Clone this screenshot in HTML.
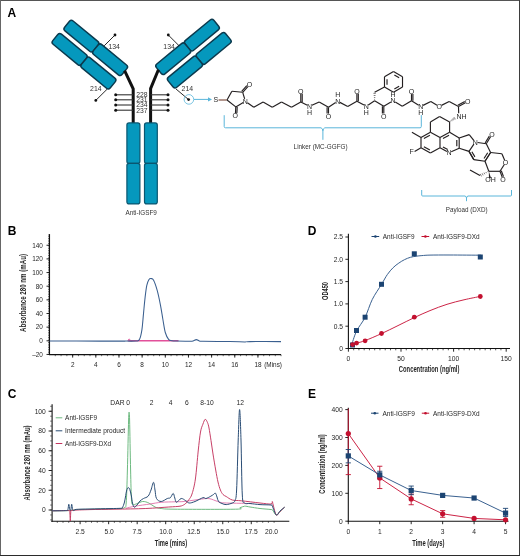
<!DOCTYPE html>
<html><head><meta charset="utf-8"><style>
html,body{margin:0;padding:0;background:#fff;}
svg{display:block;font-family:'Liberation Sans',sans-serif;}
text{font-family:'Liberation Sans',sans-serif;filter:grayscale(1);}
</style></head><body>
<svg width="520" height="556" viewBox="0 0 520 556">
<rect x="0" y="0" width="520" height="556" fill="#fff"/>
<text x="7.5" y="17.4" font-size="12" text-anchor="start" fill="#000" font-weight="bold" >A</text>
<text x="7.7" y="235" font-size="12" text-anchor="start" fill="#000" font-weight="bold" >B</text>
<text x="7.7" y="398.2" font-size="12" text-anchor="start" fill="#000" font-weight="bold" >C</text>
<text x="307.7" y="234.8" font-size="12" text-anchor="start" fill="#000" font-weight="bold" >D</text>
<text x="308" y="398.2" font-size="12" text-anchor="start" fill="#000" font-weight="bold" >E</text>
<g transform="translate(96 47.6) rotate(39.5)"><rect x="-37.2" y="-6" width="37.2" height="12.8" rx="2.6" fill="#0598bd" stroke="#0b3a4e" stroke-width="1.45"/><rect x="0" y="-6" width="37.2" height="12.8" rx="2.6" fill="#0598bd" stroke="#0b3a4e" stroke-width="1.45"/></g><g transform="translate(84.34 60.8) rotate(39.5)"><rect x="-37.2" y="-6" width="37.2" height="13.1" rx="2.6" fill="#0598bd" stroke="#0b3a4e" stroke-width="1.45"/><rect x="0" y="-6" width="37.2" height="13.1" rx="2.6" fill="#0598bd" stroke="#0b3a4e" stroke-width="1.45"/></g>
<g transform="translate(283.3 -1) scale(-1 1)"><g transform="translate(96 47.6) rotate(39.5)"><rect x="-37.2" y="-6" width="37.2" height="12.8" rx="2.6" fill="#0598bd" stroke="#0b3a4e" stroke-width="1.45"/><rect x="0" y="-6" width="37.2" height="12.8" rx="2.6" fill="#0598bd" stroke="#0b3a4e" stroke-width="1.45"/></g><g transform="translate(84.34 60.8) rotate(39.5)"><rect x="-37.2" y="-6" width="37.2" height="13.1" rx="2.6" fill="#0598bd" stroke="#0b3a4e" stroke-width="1.45"/><rect x="0" y="-6" width="37.2" height="13.1" rx="2.6" fill="#0598bd" stroke="#0b3a4e" stroke-width="1.45"/></g></g>
<path d="M124.6,70.6 L133.2,88.8 L133.2,123" fill="none" stroke="#111" stroke-width="3"/>
<path d="M158.4,69.8 L150.6,88.6 L150.6,123" fill="none" stroke="#111" stroke-width="3"/>
<line x1="115.7" y1="94.8" x2="133" y2="94.8" stroke="#333" stroke-width="1.1" />
<line x1="150.6" y1="94.8" x2="168" y2="94.8" stroke="#333" stroke-width="1.1" />
<circle cx="115.7" cy="94.8" r="1.5" fill="#111"/>
<circle cx="168" cy="94.8" r="1.5" fill="#111"/>
<line x1="115.7" y1="99.8" x2="133" y2="99.8" stroke="#333" stroke-width="1.1" />
<line x1="150.6" y1="99.8" x2="168" y2="99.8" stroke="#333" stroke-width="1.1" />
<circle cx="115.7" cy="99.8" r="1.5" fill="#111"/>
<circle cx="168" cy="99.8" r="1.5" fill="#111"/>
<line x1="115.7" y1="105" x2="133" y2="105" stroke="#333" stroke-width="1.1" />
<line x1="150.6" y1="105" x2="168" y2="105" stroke="#333" stroke-width="1.1" />
<circle cx="115.7" cy="105" r="1.5" fill="#111"/>
<circle cx="168" cy="105" r="1.5" fill="#111"/>
<line x1="115.7" y1="110.2" x2="133" y2="110.2" stroke="#333" stroke-width="1.1" />
<line x1="150.6" y1="110.2" x2="168" y2="110.2" stroke="#333" stroke-width="1.1" />
<circle cx="115.7" cy="110.2" r="1.5" fill="#111"/>
<circle cx="168" cy="110.2" r="1.5" fill="#111"/>
<text x="141.8" y="97" font-size="6.8" text-anchor="middle" fill="#333" >228</text>
<text x="141.8" y="102.1" font-size="6.8" text-anchor="middle" fill="#333" >231</text>
<text x="141.8" y="107.3" font-size="6.8" text-anchor="middle" fill="#333" >234</text>
<text x="141.8" y="112.5" font-size="6.8" text-anchor="middle" fill="#333" >237</text>
<rect x="126.9" y="122.9" width="13" height="40.5" rx="2.2" fill="#0598bd" stroke="#0a5670" stroke-width="1.2"/>
<rect x="126.9" y="163.4" width="13" height="40.5" rx="2.2" fill="#0598bd" stroke="#0a5670" stroke-width="1.2"/>
<rect x="144.5" y="122.9" width="12.8" height="40.5" rx="2.2" fill="#0598bd" stroke="#0a5670" stroke-width="1.2"/>
<rect x="144.5" y="163.4" width="12.8" height="40.5" rx="2.2" fill="#0598bd" stroke="#0a5670" stroke-width="1.2"/>
<text x="141.2" y="214.6" font-size="6.5" text-anchor="middle" fill="#333" textLength="31.4" lengthAdjust="spacingAndGlyphs" >Anti-IGSF9</text>
<line x1="104.2" y1="45.8" x2="115" y2="35" stroke="#111" stroke-width="0.9" />
<circle cx="115" cy="35" r="1.4" fill="#111"/>
<line x1="179.1" y1="45.8" x2="168.3" y2="35" stroke="#111" stroke-width="0.9" />
<circle cx="168.3" cy="35" r="1.4" fill="#111"/>
<text x="114.2" y="48.9" font-size="6.9" text-anchor="middle" fill="#333" >134</text>
<text x="169.1" y="48.9" font-size="6.9" text-anchor="middle" fill="#333" >134</text>
<line x1="107.3" y1="89" x2="95.8" y2="100.4" stroke="#111" stroke-width="0.9" />
<circle cx="95.8" cy="100.4" r="1.4" fill="#111"/>
<text x="95.8" y="91.2" font-size="6.9" text-anchor="middle" fill="#333" >214</text>
<line x1="176" y1="89" x2="188.6" y2="99.6" stroke="#111" stroke-width="0.9" />
<circle cx="188.6" cy="99.6" r="1.4" fill="#111"/>
<text x="187.3" y="91.2" font-size="6.9" text-anchor="middle" fill="#333" >214</text>
<circle cx="188.9" cy="99.4" r="4.8" fill="none" stroke="#5ab6da" stroke-width="0.8"/>
<line x1="194" y1="99.4" x2="209" y2="99.4" stroke="#5ab6da" stroke-width="1" />
<path d="M208,97.2 L212,99.4 L208,101.6 Z" fill="#5ab6da"/>
<text x="215.8" y="102.32" font-size="7" text-anchor="middle" fill="#231f20" >S</text>
<text x="245.4" y="103.72" font-size="7" text-anchor="middle" fill="#231f20" >N</text>
<text x="249.6" y="87.12" font-size="7" text-anchor="middle" fill="#231f20" >O</text>
<text x="235.3" y="118.32" font-size="7" text-anchor="middle" fill="#231f20" >O</text>
<line x1="218.5" y1="100" x2="226.8" y2="100" stroke="#7a4a3a" stroke-width="1.15"/>
<line x1="227" y1="100" x2="231.9" y2="91.2" stroke="#231f20" stroke-width="1.15" />
<line x1="231.9" y1="91.2" x2="242.7" y2="92.3" stroke="#231f20" stroke-width="1.15" />
<line x1="242.7" y1="92.3" x2="244.67" y2="98.81" stroke="#231f20" stroke-width="1.15" />
<line x1="243.25" y1="102.48" x2="235.8" y2="106.9" stroke="#231f20" stroke-width="1.15" />
<line x1="235.8" y1="106.9" x2="227" y2="100" stroke="#231f20" stroke-width="1.15" />
<line x1="242.7" y1="92.3" x2="247.86" y2="86.54" stroke="#231f20" stroke-width="1.15" />
<line x1="241.66" y1="91.37" x2="246.82" y2="85.6" stroke="#231f20" stroke-width="1.15" />
<line x1="235.8" y1="106.9" x2="235.45" y2="113.2" stroke="#231f20" stroke-width="1.15" />
<line x1="237.2" y1="106.98" x2="236.84" y2="113.28" stroke="#231f20" stroke-width="1.15" />
<line x1="247.42" y1="102.67" x2="253.8" y2="107.3" stroke="#231f20" stroke-width="1.15" />
<line x1="253.8" y1="107.3" x2="263.1" y2="101.9" stroke="#231f20" stroke-width="1.15" />
<line x1="263.1" y1="101.9" x2="272.3" y2="107.3" stroke="#231f20" stroke-width="1.15" />
<line x1="272.3" y1="107.3" x2="281.5" y2="101.9" stroke="#231f20" stroke-width="1.15" />
<line x1="281.5" y1="101.9" x2="291.5" y2="107.3" stroke="#231f20" stroke-width="1.15" />
<line x1="291.5" y1="107.3" x2="300.8" y2="101.9" stroke="#231f20" stroke-width="1.15" />
<text x="300.8" y="93.72" font-size="7" text-anchor="middle" fill="#231f20" >O</text>
<line x1="300.8" y1="101.9" x2="300.8" y2="93.8" stroke="#231f20" stroke-width="1.15" />
<line x1="302.2" y1="101.9" x2="302.2" y2="93.8" stroke="#231f20" stroke-width="1.15" />
<text x="309.6" y="108.82" font-size="7" text-anchor="middle" fill="#231f20" >N</text>
<text x="309.6" y="115.42" font-size="7" text-anchor="middle" fill="#231f20" >H</text>
<line x1="300.8" y1="101.9" x2="307.36" y2="105.18" stroke="#231f20" stroke-width="1.15" />
<line x1="311.87" y1="105.26" x2="319.2" y2="101.9" stroke="#231f20" stroke-width="1.15" />
<line x1="319.2" y1="101.9" x2="328.5" y2="107.3" stroke="#231f20" stroke-width="1.15" />
<line x1="328.5" y1="107.3" x2="328.5" y2="113.6" stroke="#231f20" stroke-width="1.15" />
<line x1="327.1" y1="107.3" x2="327.1" y2="113.6" stroke="#231f20" stroke-width="1.15" />
<text x="328.5" y="118.72" font-size="7" text-anchor="middle" fill="#231f20" >O</text>
<line x1="328.5" y1="107.3" x2="335.62" y2="102.58" stroke="#231f20" stroke-width="1.15" />
<text x="337.7" y="103.72" font-size="7" text-anchor="middle" fill="#231f20" >N</text>
<text x="337.7" y="97.22" font-size="7" text-anchor="middle" fill="#231f20" >H</text>
<line x1="339.91" y1="102.37" x2="347.7" y2="106.5" stroke="#231f20" stroke-width="1.15" />
<line x1="347.7" y1="106.5" x2="356.9" y2="101.2" stroke="#231f20" stroke-width="1.15" />
<line x1="356.9" y1="101.2" x2="356.9" y2="93.8" stroke="#231f20" stroke-width="1.15" />
<line x1="358.3" y1="101.2" x2="358.3" y2="93.8" stroke="#231f20" stroke-width="1.15" />
<text x="356.9" y="93.72" font-size="7" text-anchor="middle" fill="#231f20" >O</text>
<line x1="356.9" y1="101.2" x2="364.01" y2="105.1" stroke="#231f20" stroke-width="1.15" />
<text x="366.2" y="108.82" font-size="7" text-anchor="middle" fill="#231f20" >N</text>
<text x="366.2" y="115.22" font-size="7" text-anchor="middle" fill="#231f20" >H</text>
<line x1="368.29" y1="104.93" x2="374.6" y2="100.8" stroke="#231f20" stroke-width="1.15" />
<line x1="374.18" y1="99.74" x2="375.03" y2="99.74" stroke="#231f20" stroke-width="0.6" />
<line x1="373.93" y1="97.61" x2="375.28" y2="97.61" stroke="#231f20" stroke-width="0.6" />
<line x1="373.68" y1="95.49" x2="375.53" y2="95.49" stroke="#231f20" stroke-width="0.6" />
<line x1="373.43" y1="93.36" x2="375.78" y2="93.36" stroke="#231f20" stroke-width="0.6" />
<line x1="374.6" y1="92.3" x2="384.49" y2="87.1" stroke="#231f20" stroke-width="1.15" />
<line x1="393.5" y1="71.5" x2="402.51" y2="76.7" stroke="#231f20" stroke-width="1.15" />
<line x1="402.51" y1="76.7" x2="402.51" y2="87.1" stroke="#231f20" stroke-width="1.15" />
<line x1="402.51" y1="87.1" x2="393.5" y2="92.3" stroke="#231f20" stroke-width="1.15" />
<line x1="393.5" y1="92.3" x2="384.49" y2="87.1" stroke="#231f20" stroke-width="1.15" />
<line x1="384.49" y1="87.1" x2="384.49" y2="76.7" stroke="#231f20" stroke-width="1.15" />
<line x1="384.49" y1="76.7" x2="393.5" y2="71.5" stroke="#231f20" stroke-width="1.15" />
<line x1="394.37" y1="74.91" x2="399.12" y2="77.66" stroke="#231f20" stroke-width="1.15" />
<line x1="399.12" y1="86.14" x2="394.37" y2="88.89" stroke="#231f20" stroke-width="1.15" />
<line x1="387.02" y1="84.64" x2="387.02" y2="79.16" stroke="#231f20" stroke-width="1.15" />
<line x1="374.6" y1="100.8" x2="383.8" y2="106.2" stroke="#231f20" stroke-width="1.15" />
<line x1="383.8" y1="106.2" x2="383.8" y2="113.6" stroke="#231f20" stroke-width="1.15" />
<line x1="382.4" y1="106.2" x2="382.4" y2="113.6" stroke="#231f20" stroke-width="1.15" />
<text x="383.8" y="118.72" font-size="7" text-anchor="middle" fill="#231f20" >O</text>
<line x1="383.8" y1="106.2" x2="390.94" y2="102.06" stroke="#231f20" stroke-width="1.15" />
<text x="393.1" y="103.32" font-size="7" text-anchor="middle" fill="#231f20" >N</text>
<text x="393.1" y="97.12" font-size="7" text-anchor="middle" fill="#231f20" >H</text>
<line x1="395.26" y1="102.07" x2="402.3" y2="106.2" stroke="#231f20" stroke-width="1.15" />
<line x1="402.3" y1="106.2" x2="411.5" y2="100.8" stroke="#231f20" stroke-width="1.15" />
<line x1="411.5" y1="100.8" x2="411.5" y2="94.1" stroke="#231f20" stroke-width="1.15" />
<line x1="412.9" y1="100.8" x2="412.9" y2="94.1" stroke="#231f20" stroke-width="1.15" />
<text x="411.5" y="94.02" font-size="7" text-anchor="middle" fill="#231f20" >O</text>
<line x1="411.5" y1="100.8" x2="418.67" y2="105.19" stroke="#231f20" stroke-width="1.15" />
<text x="420.8" y="109.02" font-size="7" text-anchor="middle" fill="#231f20" >N</text>
<text x="420.8" y="115.02" font-size="7" text-anchor="middle" fill="#231f20" >H</text>
<line x1="423.04" y1="105.38" x2="430.8" y2="101.5" stroke="#231f20" stroke-width="1.15" />
<line x1="430.8" y1="101.5" x2="437.05" y2="105.22" stroke="#231f20" stroke-width="1.15" />
<text x="439.2" y="109.02" font-size="7" text-anchor="middle" fill="#231f20" >O</text>
<line x1="441.44" y1="105.38" x2="449.2" y2="101.5" stroke="#231f20" stroke-width="1.15" />
<line x1="449.2" y1="101.5" x2="458.5" y2="106.5" stroke="#231f20" stroke-width="1.15" />
<line x1="458.5" y1="106.5" x2="465.42" y2="102.74" stroke="#231f20" stroke-width="1.15" />
<line x1="457.83" y1="105.27" x2="464.75" y2="101.51" stroke="#231f20" stroke-width="1.15" />
<text x="467.7" y="104.02" font-size="7" text-anchor="middle" fill="#231f20" >O</text>
<line x1="458.5" y1="106.5" x2="458.71" y2="113.2" stroke="#231f20" stroke-width="1.15" />
<text x="456.4" y="118.7" font-size="7" text-anchor="start" fill="#231f20" >NH</text>
<line x1="449.91" y1="121.15" x2="450.41" y2="121.83" stroke="#231f20" stroke-width="0.6" />
<line x1="450.89" y1="120.14" x2="451.67" y2="121.2" stroke="#231f20" stroke-width="0.6" />
<line x1="451.87" y1="119.12" x2="452.93" y2="120.58" stroke="#231f20" stroke-width="0.6" />
<line x1="452.85" y1="118.11" x2="454.19" y2="119.95" stroke="#231f20" stroke-width="0.6" />
<line x1="453.82" y1="117.1" x2="455.46" y2="119.32" stroke="#231f20" stroke-width="0.6" />
<line x1="449.6" y1="121.9" x2="439.6" y2="116.5" stroke="#231f20" stroke-width="1.15" />
<line x1="439.6" y1="116.5" x2="430.4" y2="121.9" stroke="#231f20" stroke-width="1.15" />
<line x1="430.4" y1="121.9" x2="430.4" y2="132.3" stroke="#231f20" stroke-width="1.15" />
<line x1="449.6" y1="121.9" x2="449.6" y2="132.3" stroke="#231f20" stroke-width="1.15" />
<line x1="430.4" y1="132.3" x2="421" y2="137.5" stroke="#231f20" stroke-width="1.15" />
<line x1="421" y1="137.5" x2="421" y2="147.8" stroke="#231f20" stroke-width="1.15" />
<line x1="421" y1="147.8" x2="430.4" y2="153" stroke="#231f20" stroke-width="1.15" />
<line x1="430.4" y1="153" x2="440" y2="147.8" stroke="#231f20" stroke-width="1.15" />
<line x1="440" y1="147.8" x2="440" y2="137.5" stroke="#231f20" stroke-width="1.15" />
<line x1="440" y1="137.5" x2="430.4" y2="132.3" stroke="#231f20" stroke-width="1.15" />
<line x1="429.9" y1="135.17" x2="423.9" y2="138.48" stroke="#231f20" stroke-width="1.15" />
<line x1="423.9" y1="146.79" x2="429.9" y2="150.11" stroke="#231f20" stroke-width="1.15" />
<line x1="449.6" y1="132.3" x2="440" y2="137.5" stroke="#231f20" stroke-width="1.15" />
<line x1="449.6" y1="132.3" x2="459.2" y2="138" stroke="#231f20" stroke-width="1.15" />
<line x1="459.2" y1="138" x2="459.2" y2="148.2" stroke="#231f20" stroke-width="1.15" />
<line x1="459.2" y1="148.2" x2="451.2" y2="151.73" stroke="#231f20" stroke-width="1.15" />
<line x1="446.89" y1="151.55" x2="440" y2="147.8" stroke="#231f20" stroke-width="1.15" />
<text x="449" y="155.22" font-size="7" text-anchor="middle" fill="#231f20" >N</text>
<line x1="449.07" y1="135.29" x2="442.93" y2="138.61" stroke="#231f20" stroke-width="1.15" />
<line x1="456.8" y1="139.88" x2="456.8" y2="146.32" stroke="#231f20" stroke-width="1.15" />
<line x1="442.93" y1="146.91" x2="447.74" y2="149.53" stroke="#231f20" stroke-width="1.15" />
<line x1="421" y1="137.5" x2="411.9" y2="132.3" stroke="#231f20" stroke-width="1.15" />
<line x1="421" y1="147.8" x2="414.6" y2="151.6" stroke="#231f20" stroke-width="1.15" />
<text x="411.6" y="154.42" font-size="7" text-anchor="middle" fill="#231f20" >F</text>
<line x1="459.2" y1="138" x2="469.2" y2="134.6" stroke="#231f20" stroke-width="1.15" />
<line x1="469.2" y1="134.6" x2="473.77" y2="140.39" stroke="#231f20" stroke-width="1.15" />
<line x1="473.91" y1="144.11" x2="469" y2="151.4" stroke="#231f20" stroke-width="1.15" />
<line x1="469" y1="151.4" x2="459.2" y2="148.2" stroke="#231f20" stroke-width="1.15" />
<text x="475.2" y="144.72" font-size="7" text-anchor="middle" fill="#231f20" >N</text>
<line x1="477.58" y1="142.54" x2="486.3" y2="143.8" stroke="#231f20" stroke-width="1.15" />
<line x1="486.3" y1="143.8" x2="490.6" y2="152.5" stroke="#231f20" stroke-width="1.15" />
<line x1="490.6" y1="152.5" x2="485" y2="161.3" stroke="#231f20" stroke-width="1.15" />
<line x1="485" y1="161.3" x2="473.8" y2="159.6" stroke="#231f20" stroke-width="1.15" />
<line x1="473.8" y1="159.6" x2="469" y2="151.4" stroke="#231f20" stroke-width="1.15" />
<line x1="469" y1="151.4" x2="473.8" y2="159.6" stroke="#231f20" stroke-width="1.15" />
<line x1="471.89" y1="151.79" x2="474.88" y2="156.88" stroke="#231f20" stroke-width="1.15" />
<line x1="490.6" y1="152.5" x2="485" y2="161.3" stroke="#231f20" stroke-width="1.15" />
<line x1="487.69" y1="152.78" x2="484.03" y2="158.55" stroke="#231f20" stroke-width="1.15" />
<line x1="486.3" y1="143.8" x2="490.55" y2="136.82" stroke="#231f20" stroke-width="1.15" />
<line x1="485.1" y1="143.07" x2="489.35" y2="136.09" stroke="#231f20" stroke-width="1.15" />
<text x="491.9" y="137.12" font-size="7" text-anchor="middle" fill="#231f20" >O</text>
<line x1="490.6" y1="152.5" x2="501.9" y2="153.8" stroke="#231f20" stroke-width="1.15" />
<line x1="501.9" y1="153.8" x2="504.66" y2="160.29" stroke="#231f20" stroke-width="1.15" />
<text x="505.6" y="165.02" font-size="7" text-anchor="middle" fill="#231f20" >O</text>
<line x1="504.31" y1="164.52" x2="500" y2="171.3" stroke="#231f20" stroke-width="1.15" />
<line x1="500" y1="171.3" x2="488.8" y2="171.3" stroke="#231f20" stroke-width="1.15" />
<line x1="488.8" y1="171.3" x2="485" y2="161.3" stroke="#231f20" stroke-width="1.15" />
<line x1="500" y1="171.3" x2="502.19" y2="177.16" stroke="#231f20" stroke-width="1.15" />
<line x1="501.31" y1="170.81" x2="503.5" y2="176.67" stroke="#231f20" stroke-width="1.15" />
<text x="503.1" y="182.12" font-size="7" text-anchor="middle" fill="#231f20" >O</text>
<line x1="488.1" y1="172.11" x2="487.74" y2="171.35" stroke="#231f20" stroke-width="0.6" />
<line x1="486.45" y1="173.18" x2="485.87" y2="172" stroke="#231f20" stroke-width="0.6" />
<line x1="484.8" y1="174.26" x2="484" y2="172.64" stroke="#231f20" stroke-width="0.6" />
<line x1="483.14" y1="175.33" x2="482.14" y2="173.29" stroke="#231f20" stroke-width="0.6" />
<line x1="481.49" y1="176.41" x2="480.27" y2="173.93" stroke="#231f20" stroke-width="0.6" />
<line x1="480" y1="175.6" x2="470" y2="170" stroke="#231f20" stroke-width="1.15" />
<path d="M488.8,171.3 L489.01,178.37 L490.99,178.03 Z" fill="#231f20"/>
<text x="485.3" y="182.4" font-size="7" text-anchor="start" fill="#231f20" >OH</text>
<path d="M224.2,115.2 L224.2,126.5 Q224.2,127.8 225.5,127.8 L321,127.8 Q322.9,128.5 322.9,131 L322.9,139.8 M322.9,131 Q322.9,128.5 324.8,127.8 L420,127.8 Q421.3,127.8 421.3,126.5 L421.3,115.1" fill="none" stroke="#5ab6da" stroke-width="1"/>
<text x="320.6" y="149.2" font-size="7" text-anchor="middle" fill="#333" textLength="54" lengthAdjust="spacingAndGlyphs" >Linker (MC-GGFG)</text>
<path d="M421.7,190 L421.7,195 Q421.7,196 422.7,196 L465,196 Q466.5,196.5 466.5,198 L466.5,201.2 M466.5,198 Q466.5,196.5 468,196 L510.5,196 Q511.5,196 511.5,195 L511.5,190" fill="none" stroke="#5ab6da" stroke-width="1"/>
<text x="466.7" y="212.3" font-size="7" text-anchor="middle" fill="#333" textLength="42" lengthAdjust="spacingAndGlyphs" >Payload (DXD)</text>
<line x1="49.5" y1="234.1" x2="49.5" y2="355" stroke="#111" stroke-width="1.1" />
<line x1="49" y1="354.6" x2="281" y2="354.6" stroke="#111" stroke-width="1.1" />
<line x1="46.5" y1="354.45" x2="49.5" y2="354.45" stroke="#111" stroke-width="0.9" />
<text x="42.9" y="356.75" font-size="6.4" text-anchor="end" fill="#231f20" >&#8211;20</text>
<line x1="46.5" y1="340.8" x2="49.5" y2="340.8" stroke="#111" stroke-width="0.9" />
<text x="42.9" y="343.1" font-size="6.4" text-anchor="end" fill="#231f20" >0</text>
<line x1="46.5" y1="327.15" x2="49.5" y2="327.15" stroke="#111" stroke-width="0.9" />
<text x="42.9" y="329.45" font-size="6.4" text-anchor="end" fill="#231f20" >20</text>
<line x1="46.5" y1="313.5" x2="49.5" y2="313.5" stroke="#111" stroke-width="0.9" />
<text x="42.9" y="315.8" font-size="6.4" text-anchor="end" fill="#231f20" >40</text>
<line x1="46.5" y1="299.85" x2="49.5" y2="299.85" stroke="#111" stroke-width="0.9" />
<text x="42.9" y="302.15" font-size="6.4" text-anchor="end" fill="#231f20" >60</text>
<line x1="46.5" y1="286.2" x2="49.5" y2="286.2" stroke="#111" stroke-width="0.9" />
<text x="42.9" y="288.5" font-size="6.4" text-anchor="end" fill="#231f20" >80</text>
<line x1="46.5" y1="272.55" x2="49.5" y2="272.55" stroke="#111" stroke-width="0.9" />
<text x="42.9" y="274.85" font-size="6.4" text-anchor="end" fill="#231f20" >100</text>
<line x1="46.5" y1="258.9" x2="49.5" y2="258.9" stroke="#111" stroke-width="0.9" />
<text x="42.9" y="261.2" font-size="6.4" text-anchor="end" fill="#231f20" >120</text>
<line x1="46.5" y1="245.25" x2="49.5" y2="245.25" stroke="#111" stroke-width="0.9" />
<text x="42.9" y="247.55" font-size="6.4" text-anchor="end" fill="#231f20" >140</text>
<line x1="48" y1="354.45" x2="49.5" y2="354.45" stroke="#111" stroke-width="0.6" />
<line x1="48" y1="352.74" x2="49.5" y2="352.74" stroke="#111" stroke-width="0.6" />
<line x1="48" y1="351.04" x2="49.5" y2="351.04" stroke="#111" stroke-width="0.6" />
<line x1="48" y1="349.33" x2="49.5" y2="349.33" stroke="#111" stroke-width="0.6" />
<line x1="48" y1="347.62" x2="49.5" y2="347.62" stroke="#111" stroke-width="0.6" />
<line x1="48" y1="345.92" x2="49.5" y2="345.92" stroke="#111" stroke-width="0.6" />
<line x1="48" y1="344.21" x2="49.5" y2="344.21" stroke="#111" stroke-width="0.6" />
<line x1="48" y1="342.51" x2="49.5" y2="342.51" stroke="#111" stroke-width="0.6" />
<line x1="48" y1="340.8" x2="49.5" y2="340.8" stroke="#111" stroke-width="0.6" />
<line x1="48" y1="339.09" x2="49.5" y2="339.09" stroke="#111" stroke-width="0.6" />
<line x1="48" y1="337.39" x2="49.5" y2="337.39" stroke="#111" stroke-width="0.6" />
<line x1="48" y1="335.68" x2="49.5" y2="335.68" stroke="#111" stroke-width="0.6" />
<line x1="48" y1="333.98" x2="49.5" y2="333.98" stroke="#111" stroke-width="0.6" />
<line x1="48" y1="332.27" x2="49.5" y2="332.27" stroke="#111" stroke-width="0.6" />
<line x1="48" y1="330.56" x2="49.5" y2="330.56" stroke="#111" stroke-width="0.6" />
<line x1="48" y1="328.86" x2="49.5" y2="328.86" stroke="#111" stroke-width="0.6" />
<line x1="48" y1="327.15" x2="49.5" y2="327.15" stroke="#111" stroke-width="0.6" />
<line x1="48" y1="325.44" x2="49.5" y2="325.44" stroke="#111" stroke-width="0.6" />
<line x1="48" y1="323.74" x2="49.5" y2="323.74" stroke="#111" stroke-width="0.6" />
<line x1="48" y1="322.03" x2="49.5" y2="322.03" stroke="#111" stroke-width="0.6" />
<line x1="48" y1="320.32" x2="49.5" y2="320.32" stroke="#111" stroke-width="0.6" />
<line x1="48" y1="318.62" x2="49.5" y2="318.62" stroke="#111" stroke-width="0.6" />
<line x1="48" y1="316.91" x2="49.5" y2="316.91" stroke="#111" stroke-width="0.6" />
<line x1="48" y1="315.21" x2="49.5" y2="315.21" stroke="#111" stroke-width="0.6" />
<line x1="48" y1="313.5" x2="49.5" y2="313.5" stroke="#111" stroke-width="0.6" />
<line x1="48" y1="311.79" x2="49.5" y2="311.79" stroke="#111" stroke-width="0.6" />
<line x1="48" y1="310.09" x2="49.5" y2="310.09" stroke="#111" stroke-width="0.6" />
<line x1="48" y1="308.38" x2="49.5" y2="308.38" stroke="#111" stroke-width="0.6" />
<line x1="48" y1="306.68" x2="49.5" y2="306.68" stroke="#111" stroke-width="0.6" />
<line x1="48" y1="304.97" x2="49.5" y2="304.97" stroke="#111" stroke-width="0.6" />
<line x1="48" y1="303.26" x2="49.5" y2="303.26" stroke="#111" stroke-width="0.6" />
<line x1="48" y1="301.56" x2="49.5" y2="301.56" stroke="#111" stroke-width="0.6" />
<line x1="48" y1="299.85" x2="49.5" y2="299.85" stroke="#111" stroke-width="0.6" />
<line x1="48" y1="298.14" x2="49.5" y2="298.14" stroke="#111" stroke-width="0.6" />
<line x1="48" y1="296.44" x2="49.5" y2="296.44" stroke="#111" stroke-width="0.6" />
<line x1="48" y1="294.73" x2="49.5" y2="294.73" stroke="#111" stroke-width="0.6" />
<line x1="48" y1="293.03" x2="49.5" y2="293.03" stroke="#111" stroke-width="0.6" />
<line x1="48" y1="291.32" x2="49.5" y2="291.32" stroke="#111" stroke-width="0.6" />
<line x1="48" y1="289.61" x2="49.5" y2="289.61" stroke="#111" stroke-width="0.6" />
<line x1="48" y1="287.91" x2="49.5" y2="287.91" stroke="#111" stroke-width="0.6" />
<line x1="48" y1="286.2" x2="49.5" y2="286.2" stroke="#111" stroke-width="0.6" />
<line x1="48" y1="284.49" x2="49.5" y2="284.49" stroke="#111" stroke-width="0.6" />
<line x1="48" y1="282.79" x2="49.5" y2="282.79" stroke="#111" stroke-width="0.6" />
<line x1="48" y1="281.08" x2="49.5" y2="281.08" stroke="#111" stroke-width="0.6" />
<line x1="48" y1="279.38" x2="49.5" y2="279.38" stroke="#111" stroke-width="0.6" />
<line x1="48" y1="277.67" x2="49.5" y2="277.67" stroke="#111" stroke-width="0.6" />
<line x1="48" y1="275.96" x2="49.5" y2="275.96" stroke="#111" stroke-width="0.6" />
<line x1="48" y1="274.26" x2="49.5" y2="274.26" stroke="#111" stroke-width="0.6" />
<line x1="48" y1="272.55" x2="49.5" y2="272.55" stroke="#111" stroke-width="0.6" />
<line x1="48" y1="270.84" x2="49.5" y2="270.84" stroke="#111" stroke-width="0.6" />
<line x1="48" y1="269.14" x2="49.5" y2="269.14" stroke="#111" stroke-width="0.6" />
<line x1="48" y1="267.43" x2="49.5" y2="267.43" stroke="#111" stroke-width="0.6" />
<line x1="48" y1="265.73" x2="49.5" y2="265.73" stroke="#111" stroke-width="0.6" />
<line x1="48" y1="264.02" x2="49.5" y2="264.02" stroke="#111" stroke-width="0.6" />
<line x1="48" y1="262.31" x2="49.5" y2="262.31" stroke="#111" stroke-width="0.6" />
<line x1="48" y1="260.61" x2="49.5" y2="260.61" stroke="#111" stroke-width="0.6" />
<line x1="48" y1="258.9" x2="49.5" y2="258.9" stroke="#111" stroke-width="0.6" />
<line x1="48" y1="257.19" x2="49.5" y2="257.19" stroke="#111" stroke-width="0.6" />
<line x1="48" y1="255.49" x2="49.5" y2="255.49" stroke="#111" stroke-width="0.6" />
<line x1="48" y1="253.78" x2="49.5" y2="253.78" stroke="#111" stroke-width="0.6" />
<line x1="48" y1="252.08" x2="49.5" y2="252.08" stroke="#111" stroke-width="0.6" />
<line x1="48" y1="250.37" x2="49.5" y2="250.37" stroke="#111" stroke-width="0.6" />
<line x1="48" y1="248.66" x2="49.5" y2="248.66" stroke="#111" stroke-width="0.6" />
<line x1="48" y1="246.96" x2="49.5" y2="246.96" stroke="#111" stroke-width="0.6" />
<line x1="48" y1="245.25" x2="49.5" y2="245.25" stroke="#111" stroke-width="0.6" />
<line x1="48" y1="243.54" x2="49.5" y2="243.54" stroke="#111" stroke-width="0.6" />
<line x1="48" y1="241.84" x2="49.5" y2="241.84" stroke="#111" stroke-width="0.6" />
<line x1="48" y1="240.13" x2="49.5" y2="240.13" stroke="#111" stroke-width="0.6" />
<line x1="48" y1="238.43" x2="49.5" y2="238.43" stroke="#111" stroke-width="0.6" />
<line x1="48" y1="236.72" x2="49.5" y2="236.72" stroke="#111" stroke-width="0.6" />
<line x1="48" y1="235.01" x2="49.5" y2="235.01" stroke="#111" stroke-width="0.6" />
<line x1="55.29" y1="354.6" x2="55.29" y2="356.2" stroke="#111" stroke-width="0.6" />
<line x1="61.08" y1="354.6" x2="61.08" y2="356.2" stroke="#111" stroke-width="0.6" />
<line x1="66.87" y1="354.6" x2="66.87" y2="356.2" stroke="#111" stroke-width="0.6" />
<line x1="72.66" y1="354.6" x2="72.66" y2="356.2" stroke="#111" stroke-width="0.6" />
<line x1="78.45" y1="354.6" x2="78.45" y2="356.2" stroke="#111" stroke-width="0.6" />
<line x1="84.24" y1="354.6" x2="84.24" y2="356.2" stroke="#111" stroke-width="0.6" />
<line x1="90.03" y1="354.6" x2="90.03" y2="356.2" stroke="#111" stroke-width="0.6" />
<line x1="95.82" y1="354.6" x2="95.82" y2="356.2" stroke="#111" stroke-width="0.6" />
<line x1="101.61" y1="354.6" x2="101.61" y2="356.2" stroke="#111" stroke-width="0.6" />
<line x1="107.4" y1="354.6" x2="107.4" y2="356.2" stroke="#111" stroke-width="0.6" />
<line x1="113.19" y1="354.6" x2="113.19" y2="356.2" stroke="#111" stroke-width="0.6" />
<line x1="118.98" y1="354.6" x2="118.98" y2="356.2" stroke="#111" stroke-width="0.6" />
<line x1="124.77" y1="354.6" x2="124.77" y2="356.2" stroke="#111" stroke-width="0.6" />
<line x1="130.56" y1="354.6" x2="130.56" y2="356.2" stroke="#111" stroke-width="0.6" />
<line x1="136.35" y1="354.6" x2="136.35" y2="356.2" stroke="#111" stroke-width="0.6" />
<line x1="142.14" y1="354.6" x2="142.14" y2="356.2" stroke="#111" stroke-width="0.6" />
<line x1="147.93" y1="354.6" x2="147.93" y2="356.2" stroke="#111" stroke-width="0.6" />
<line x1="153.72" y1="354.6" x2="153.72" y2="356.2" stroke="#111" stroke-width="0.6" />
<line x1="159.51" y1="354.6" x2="159.51" y2="356.2" stroke="#111" stroke-width="0.6" />
<line x1="165.3" y1="354.6" x2="165.3" y2="356.2" stroke="#111" stroke-width="0.6" />
<line x1="171.09" y1="354.6" x2="171.09" y2="356.2" stroke="#111" stroke-width="0.6" />
<line x1="176.88" y1="354.6" x2="176.88" y2="356.2" stroke="#111" stroke-width="0.6" />
<line x1="182.67" y1="354.6" x2="182.67" y2="356.2" stroke="#111" stroke-width="0.6" />
<line x1="188.46" y1="354.6" x2="188.46" y2="356.2" stroke="#111" stroke-width="0.6" />
<line x1="194.25" y1="354.6" x2="194.25" y2="356.2" stroke="#111" stroke-width="0.6" />
<line x1="200.04" y1="354.6" x2="200.04" y2="356.2" stroke="#111" stroke-width="0.6" />
<line x1="205.83" y1="354.6" x2="205.83" y2="356.2" stroke="#111" stroke-width="0.6" />
<line x1="211.62" y1="354.6" x2="211.62" y2="356.2" stroke="#111" stroke-width="0.6" />
<line x1="217.41" y1="354.6" x2="217.41" y2="356.2" stroke="#111" stroke-width="0.6" />
<line x1="223.2" y1="354.6" x2="223.2" y2="356.2" stroke="#111" stroke-width="0.6" />
<line x1="228.99" y1="354.6" x2="228.99" y2="356.2" stroke="#111" stroke-width="0.6" />
<line x1="234.78" y1="354.6" x2="234.78" y2="356.2" stroke="#111" stroke-width="0.6" />
<line x1="240.57" y1="354.6" x2="240.57" y2="356.2" stroke="#111" stroke-width="0.6" />
<line x1="246.36" y1="354.6" x2="246.36" y2="356.2" stroke="#111" stroke-width="0.6" />
<line x1="252.15" y1="354.6" x2="252.15" y2="356.2" stroke="#111" stroke-width="0.6" />
<line x1="257.94" y1="354.6" x2="257.94" y2="356.2" stroke="#111" stroke-width="0.6" />
<line x1="263.73" y1="354.6" x2="263.73" y2="356.2" stroke="#111" stroke-width="0.6" />
<line x1="269.52" y1="354.6" x2="269.52" y2="356.2" stroke="#111" stroke-width="0.6" />
<line x1="275.31" y1="354.6" x2="275.31" y2="356.2" stroke="#111" stroke-width="0.6" />
<line x1="281.1" y1="354.6" x2="281.1" y2="356.2" stroke="#111" stroke-width="0.6" />
<line x1="72.66" y1="354.6" x2="72.66" y2="357.6" stroke="#111" stroke-width="0.9" />
<text x="72.66" y="366.9" font-size="6.4" text-anchor="middle" fill="#231f20" >2</text>
<line x1="95.82" y1="354.6" x2="95.82" y2="357.6" stroke="#111" stroke-width="0.9" />
<text x="95.82" y="366.9" font-size="6.4" text-anchor="middle" fill="#231f20" >4</text>
<line x1="118.98" y1="354.6" x2="118.98" y2="357.6" stroke="#111" stroke-width="0.9" />
<text x="118.98" y="366.9" font-size="6.4" text-anchor="middle" fill="#231f20" >6</text>
<line x1="142.14" y1="354.6" x2="142.14" y2="357.6" stroke="#111" stroke-width="0.9" />
<text x="142.14" y="366.9" font-size="6.4" text-anchor="middle" fill="#231f20" >8</text>
<line x1="165.3" y1="354.6" x2="165.3" y2="357.6" stroke="#111" stroke-width="0.9" />
<text x="165.3" y="366.9" font-size="6.4" text-anchor="middle" fill="#231f20" >10</text>
<line x1="188.46" y1="354.6" x2="188.46" y2="357.6" stroke="#111" stroke-width="0.9" />
<text x="188.46" y="366.9" font-size="6.4" text-anchor="middle" fill="#231f20" >12</text>
<line x1="211.62" y1="354.6" x2="211.62" y2="357.6" stroke="#111" stroke-width="0.9" />
<text x="211.62" y="366.9" font-size="6.4" text-anchor="middle" fill="#231f20" >14</text>
<line x1="234.78" y1="354.6" x2="234.78" y2="357.6" stroke="#111" stroke-width="0.9" />
<text x="234.78" y="366.9" font-size="6.4" text-anchor="middle" fill="#231f20" >16</text>
<line x1="257.94" y1="354.6" x2="257.94" y2="357.6" stroke="#111" stroke-width="0.9" />
<text x="257.94" y="366.9" font-size="6.4" text-anchor="middle" fill="#231f20" >18</text>
<text x="264.24" y="366.9" font-size="6.4" text-anchor="start" fill="#231f20" >(Mins)</text>
<text x="26.4" y="293" font-size="8.5" text-anchor="middle" fill="#231f20" font-weight="bold" textLength="78" lengthAdjust="spacingAndGlyphs" transform="rotate(-90 26.4 293)" >Absorbance 280 nm (mAu)</text>
<path d="M128.2,340.7 L178.5,340.7" stroke="#e2509a" stroke-width="1.6" fill="none"/>
<path d="M127.8,340.9 C128.02,340.57 128.67,338.97 129.1,338.9 C129.53,338.83 129.95,340.18 130.4,340.5 C130.85,340.82 131.57,340.75 131.8,340.8" stroke="#e2509a" stroke-width="1" fill="none"/>
<path d="M49.5,341 C57.92,341.02 87.42,341.08 100,341.1 C112.58,341.12 119,341.12 125,341.1 C131,341.08 133.6,341.25 136,341 C138.4,340.75 138.42,341.47 139.4,339.6 C140.38,337.73 141.22,334.13 141.9,329.8 C142.58,325.47 142.97,319 143.5,313.6 C144.03,308.2 144.55,302.1 145.1,297.4 C145.65,292.7 146.15,288.38 146.8,285.4 C147.45,282.42 148.28,280.63 149,279.5 C149.72,278.37 150.33,278.48 151.1,278.6 C151.87,278.72 152.58,278.23 153.6,280.2 C154.62,282.17 156.05,286.22 157.2,290.4 C158.35,294.58 159.55,300.45 160.5,305.3 C161.45,310.15 162.1,314.97 162.9,319.5 C163.7,324.03 164.35,329.18 165.3,332.5 C166.25,335.82 167.52,338.03 168.6,339.4 C169.68,340.77 170.57,340.42 171.8,340.7 C173.03,340.98 173.13,341.02 176,341.1 C178.87,341.18 186.17,341.22 189,341.2 C191.83,341.18 191.78,341.27 193,341 C194.22,340.73 195.22,339.6 196.3,339.6 C197.38,339.6 198.38,340.72 199.5,341 C200.62,341.28 197.92,341.22 203,341.3 C208.08,341.38 223,341.4 230,341.5 C237,341.6 241.67,341.88 245,341.9 C248.33,341.92 244,341.65 250,341.6 C256,341.55 275.83,341.6 281,341.6" stroke="#3a5f8f" stroke-width="1.05" fill="none"/>
<line x1="348.4" y1="233.8" x2="348.4" y2="349" stroke="#111" stroke-width="1.1" />
<line x1="347.9" y1="348.5" x2="510" y2="348.5" stroke="#111" stroke-width="1.1" />
<line x1="345.4" y1="348.5" x2="348.4" y2="348.5" stroke="#111" stroke-width="0.9" />
<text x="343.1" y="350.9" font-size="6.7" text-anchor="end" fill="#231f20" >0</text>
<line x1="345.4" y1="326.2" x2="348.4" y2="326.2" stroke="#111" stroke-width="0.9" />
<text x="343.1" y="328.6" font-size="6.7" text-anchor="end" fill="#231f20" >0.5</text>
<line x1="345.4" y1="303.9" x2="348.4" y2="303.9" stroke="#111" stroke-width="0.9" />
<text x="343.1" y="306.3" font-size="6.7" text-anchor="end" fill="#231f20" >1.0</text>
<line x1="345.4" y1="281.6" x2="348.4" y2="281.6" stroke="#111" stroke-width="0.9" />
<text x="343.1" y="284" font-size="6.7" text-anchor="end" fill="#231f20" >1.5</text>
<line x1="345.4" y1="259.3" x2="348.4" y2="259.3" stroke="#111" stroke-width="0.9" />
<text x="343.1" y="261.7" font-size="6.7" text-anchor="end" fill="#231f20" >2.0</text>
<line x1="345.4" y1="237" x2="348.4" y2="237" stroke="#111" stroke-width="0.9" />
<text x="343.1" y="239.4" font-size="6.7" text-anchor="end" fill="#231f20" >2.5</text>
<line x1="353.66" y1="348.5" x2="353.66" y2="350.3" stroke="#111" stroke-width="0.7" />
<line x1="358.92" y1="348.5" x2="358.92" y2="350.3" stroke="#111" stroke-width="0.7" />
<line x1="364.18" y1="348.5" x2="364.18" y2="350.3" stroke="#111" stroke-width="0.7" />
<line x1="369.44" y1="348.5" x2="369.44" y2="350.3" stroke="#111" stroke-width="0.7" />
<line x1="374.7" y1="348.5" x2="374.7" y2="350.3" stroke="#111" stroke-width="0.7" />
<line x1="379.96" y1="348.5" x2="379.96" y2="350.3" stroke="#111" stroke-width="0.7" />
<line x1="385.22" y1="348.5" x2="385.22" y2="350.3" stroke="#111" stroke-width="0.7" />
<line x1="390.48" y1="348.5" x2="390.48" y2="350.3" stroke="#111" stroke-width="0.7" />
<line x1="395.74" y1="348.5" x2="395.74" y2="350.3" stroke="#111" stroke-width="0.7" />
<line x1="401" y1="348.5" x2="401" y2="351.7" stroke="#111" stroke-width="0.9" />
<line x1="406.26" y1="348.5" x2="406.26" y2="350.3" stroke="#111" stroke-width="0.7" />
<line x1="411.52" y1="348.5" x2="411.52" y2="350.3" stroke="#111" stroke-width="0.7" />
<line x1="416.78" y1="348.5" x2="416.78" y2="350.3" stroke="#111" stroke-width="0.7" />
<line x1="422.04" y1="348.5" x2="422.04" y2="350.3" stroke="#111" stroke-width="0.7" />
<line x1="427.3" y1="348.5" x2="427.3" y2="350.3" stroke="#111" stroke-width="0.7" />
<line x1="432.56" y1="348.5" x2="432.56" y2="350.3" stroke="#111" stroke-width="0.7" />
<line x1="437.82" y1="348.5" x2="437.82" y2="350.3" stroke="#111" stroke-width="0.7" />
<line x1="443.08" y1="348.5" x2="443.08" y2="350.3" stroke="#111" stroke-width="0.7" />
<line x1="448.34" y1="348.5" x2="448.34" y2="350.3" stroke="#111" stroke-width="0.7" />
<line x1="453.6" y1="348.5" x2="453.6" y2="351.7" stroke="#111" stroke-width="0.9" />
<line x1="458.86" y1="348.5" x2="458.86" y2="350.3" stroke="#111" stroke-width="0.7" />
<line x1="464.12" y1="348.5" x2="464.12" y2="350.3" stroke="#111" stroke-width="0.7" />
<line x1="469.38" y1="348.5" x2="469.38" y2="350.3" stroke="#111" stroke-width="0.7" />
<line x1="474.64" y1="348.5" x2="474.64" y2="350.3" stroke="#111" stroke-width="0.7" />
<line x1="479.9" y1="348.5" x2="479.9" y2="350.3" stroke="#111" stroke-width="0.7" />
<line x1="485.16" y1="348.5" x2="485.16" y2="350.3" stroke="#111" stroke-width="0.7" />
<line x1="490.42" y1="348.5" x2="490.42" y2="350.3" stroke="#111" stroke-width="0.7" />
<line x1="495.68" y1="348.5" x2="495.68" y2="350.3" stroke="#111" stroke-width="0.7" />
<line x1="500.94" y1="348.5" x2="500.94" y2="350.3" stroke="#111" stroke-width="0.7" />
<line x1="506.2" y1="348.5" x2="506.2" y2="351.7" stroke="#111" stroke-width="0.9" />
<text x="348.4" y="360.9" font-size="6.7" text-anchor="middle" fill="#231f20" >0</text>
<text x="401" y="360.9" font-size="6.7" text-anchor="middle" fill="#231f20" >50</text>
<text x="453.6" y="360.9" font-size="6.7" text-anchor="middle" fill="#231f20" >100</text>
<text x="506.2" y="360.9" font-size="6.7" text-anchor="middle" fill="#231f20" >150</text>
<line x1="348.4" y1="348.5" x2="348.4" y2="351.7" stroke="#111" stroke-width="0.9" />
<text x="429.1" y="372.4" font-size="8.4" text-anchor="middle" fill="#231f20" font-weight="bold" textLength="60.6" lengthAdjust="spacingAndGlyphs" >Concentration (ng/ml)</text>
<text x="327.9" y="291" font-size="8.2" text-anchor="middle" fill="#231f20" font-weight="bold" textLength="18" lengthAdjust="spacingAndGlyphs" transform="rotate(-90 327.9 291)" >OD450</text>
<path d="M351.3,346 C352.17,343.53 354.2,335.98 356.5,331.2 C358.8,326.42 362.47,322.6 365.1,317.3 C367.73,312 369.57,304.88 372.3,299.4 C375.03,293.92 379,288.53 381.5,284.4 C384,280.27 385.37,277.38 387.3,274.6 C389.23,271.82 391.18,269.62 393.1,267.7 C395.02,265.78 396.88,264.45 398.8,263.1 C400.72,261.75 402.67,260.57 404.6,259.6 C406.53,258.63 408.47,257.87 410.4,257.3 C412.33,256.73 414.28,256.48 416.2,256.2 C418.12,255.92 419.6,255.78 421.9,255.6 C424.2,255.42 425.32,255.2 430,255.1 C434.68,255 441.5,254.98 450,255 C458.5,255.02 475.83,255.17 481,255.2" stroke="#3a6190" stroke-width="1" fill="none"/>
<path d="M352.5,344.8 C353.18,344.53 354.5,343.9 356.6,343.2 C358.7,342.5 360.95,342.2 365.1,340.6 C369.25,339 376.02,336.1 381.5,333.6 C386.98,331.1 392.53,328.27 398,325.6 C403.47,322.93 408.97,320.1 414.3,317.6 C419.63,315.1 424.55,312.82 430,310.6 C435.45,308.38 441.33,306.1 447,304.3 C452.67,302.5 458.45,301.12 464,299.8 C469.55,298.48 477.58,296.97 480.3,296.4" stroke="#cc2446" stroke-width="1" fill="none"/>
<rect x="350" y="342.5" width="5" height="5" fill="#1c4472"/>
<rect x="354" y="328" width="5" height="5" fill="#1c4472"/>
<rect x="362.6" y="314.7" width="5" height="5" fill="#1c4472"/>
<rect x="379" y="281.8" width="5" height="5" fill="#1c4472"/>
<rect x="411.8" y="251.3" width="5" height="5" fill="#1c4472"/>
<rect x="477.8" y="254.5" width="5" height="5" fill="#1c4472"/>
<circle cx="352.6" cy="344.6" r="2.4" fill="#c3102f"/>
<circle cx="356.6" cy="343.1" r="2.4" fill="#c3102f"/>
<circle cx="365.1" cy="340.8" r="2.4" fill="#c3102f"/>
<circle cx="381.5" cy="333.5" r="2.4" fill="#c3102f"/>
<circle cx="414.3" cy="317.2" r="2.4" fill="#c3102f"/>
<circle cx="480.3" cy="296.5" r="2.4" fill="#c3102f"/>
<line x1="371.5" y1="236.5" x2="379.2" y2="236.5" stroke="#1c4472" stroke-width="1" />
<circle cx="375.4" cy="236.5" r="1.3" fill="#1c4472"/>
<text x="382.8" y="238.8" font-size="6.5" text-anchor="start" fill="#231f20" textLength="31.8" lengthAdjust="spacingAndGlyphs" >Anti-IGSF9</text>
<line x1="421.5" y1="236.5" x2="429.2" y2="236.5" stroke="#c3102f" stroke-width="1" />
<circle cx="425.4" cy="236.5" r="1.3" fill="#c3102f"/>
<text x="433" y="238.8" font-size="6.5" text-anchor="start" fill="#231f20" textLength="46.6" lengthAdjust="spacingAndGlyphs" >Anti-IGSF9-DXd</text>
<line x1="348.3" y1="407.8" x2="348.3" y2="521.7" stroke="#111" stroke-width="1.1" />
<line x1="347.8" y1="521.2" x2="508.5" y2="521.2" stroke="#111" stroke-width="1.1" />
<line x1="345.3" y1="521.2" x2="348.3" y2="521.2" stroke="#111" stroke-width="0.9" />
<text x="342.7" y="523.6" font-size="6.7" text-anchor="end" fill="#231f20" >0</text>
<line x1="345.3" y1="493.3" x2="348.3" y2="493.3" stroke="#111" stroke-width="0.9" />
<text x="342.7" y="495.7" font-size="6.7" text-anchor="end" fill="#231f20" >100</text>
<line x1="345.3" y1="465.4" x2="348.3" y2="465.4" stroke="#111" stroke-width="0.9" />
<text x="342.7" y="467.8" font-size="6.7" text-anchor="end" fill="#231f20" >200</text>
<line x1="345.3" y1="437.5" x2="348.3" y2="437.5" stroke="#111" stroke-width="0.9" />
<text x="342.7" y="439.9" font-size="6.7" text-anchor="end" fill="#231f20" >300</text>
<line x1="345.3" y1="409.6" x2="348.3" y2="409.6" stroke="#111" stroke-width="0.9" />
<text x="342.7" y="412" font-size="6.7" text-anchor="end" fill="#231f20" >400</text>
<line x1="348.3" y1="521.2" x2="348.3" y2="524.2" stroke="#111" stroke-width="0.9" />
<text x="348.3" y="533.6" font-size="6.7" text-anchor="middle" fill="#231f20" >0</text>
<line x1="379.75" y1="521.2" x2="379.75" y2="524.2" stroke="#111" stroke-width="0.9" />
<text x="379.75" y="533.6" font-size="6.7" text-anchor="middle" fill="#231f20" >1</text>
<line x1="411.2" y1="521.2" x2="411.2" y2="524.2" stroke="#111" stroke-width="0.9" />
<text x="411.2" y="533.6" font-size="6.7" text-anchor="middle" fill="#231f20" >2</text>
<line x1="442.65" y1="521.2" x2="442.65" y2="524.2" stroke="#111" stroke-width="0.9" />
<text x="442.65" y="533.6" font-size="6.7" text-anchor="middle" fill="#231f20" >3</text>
<line x1="474.1" y1="521.2" x2="474.1" y2="524.2" stroke="#111" stroke-width="0.9" />
<text x="474.1" y="533.6" font-size="6.7" text-anchor="middle" fill="#231f20" >4</text>
<line x1="505.55" y1="521.2" x2="505.55" y2="524.2" stroke="#111" stroke-width="0.9" />
<text x="505.55" y="533.6" font-size="6.7" text-anchor="middle" fill="#231f20" >5</text>
<text x="428.3" y="545.8" font-size="8.4" text-anchor="middle" fill="#231f20" font-weight="bold" textLength="32.2" lengthAdjust="spacingAndGlyphs" >Time (days)</text>
<text x="325" y="464" font-size="8.3" text-anchor="middle" fill="#231f20" font-weight="bold" textLength="59.5" lengthAdjust="spacingAndGlyphs" transform="rotate(-90 325 464)" >Concentration (ng/ml)</text>
<line x1="348.3" y1="474.61" x2="348.3" y2="408.76" stroke="#c3102f" stroke-width="0.9" />
<line x1="345.7" y1="474.61" x2="350.9" y2="474.61" stroke="#c3102f" stroke-width="0.9" />
<line x1="379.75" y1="488.56" x2="379.75" y2="466.24" stroke="#c3102f" stroke-width="0.9" />
<line x1="377.15" y1="488.56" x2="382.35" y2="488.56" stroke="#c3102f" stroke-width="0.9" />
<line x1="377.15" y1="466.24" x2="382.35" y2="466.24" stroke="#c3102f" stroke-width="0.9" />
<line x1="411.2" y1="504.74" x2="411.2" y2="494.14" stroke="#c3102f" stroke-width="0.9" />
<line x1="408.6" y1="504.74" x2="413.8" y2="504.74" stroke="#c3102f" stroke-width="0.9" />
<line x1="408.6" y1="494.14" x2="413.8" y2="494.14" stroke="#c3102f" stroke-width="0.9" />
<line x1="442.65" y1="517.29" x2="442.65" y2="510.6" stroke="#c3102f" stroke-width="0.9" />
<line x1="440.05" y1="517.29" x2="445.25" y2="517.29" stroke="#c3102f" stroke-width="0.9" />
<line x1="440.05" y1="510.6" x2="445.25" y2="510.6" stroke="#c3102f" stroke-width="0.9" />
<line x1="348.3" y1="462.89" x2="348.3" y2="449.5" stroke="#1c4472" stroke-width="0.9" />
<line x1="345.7" y1="462.89" x2="350.9" y2="462.89" stroke="#1c4472" stroke-width="0.9" />
<line x1="345.7" y1="449.5" x2="350.9" y2="449.5" stroke="#1c4472" stroke-width="0.9" />
<line x1="379.75" y1="478.79" x2="379.75" y2="471.26" stroke="#1c4472" stroke-width="0.9" />
<line x1="377.15" y1="478.79" x2="382.35" y2="478.79" stroke="#1c4472" stroke-width="0.9" />
<line x1="377.15" y1="471.26" x2="382.35" y2="471.26" stroke="#1c4472" stroke-width="0.9" />
<line x1="411.2" y1="494.7" x2="411.2" y2="486.05" stroke="#1c4472" stroke-width="0.9" />
<line x1="408.6" y1="494.7" x2="413.8" y2="494.7" stroke="#1c4472" stroke-width="0.9" />
<line x1="408.6" y1="486.05" x2="413.8" y2="486.05" stroke="#1c4472" stroke-width="0.9" />
<line x1="505.55" y1="516.46" x2="505.55" y2="508.37" stroke="#1c4472" stroke-width="0.9" />
<line x1="502.95" y1="516.46" x2="508.15" y2="516.46" stroke="#1c4472" stroke-width="0.9" />
<line x1="502.95" y1="508.37" x2="508.15" y2="508.37" stroke="#1c4472" stroke-width="0.9" />
<polyline points="348.3,433.59 379.75,477.96 411.2,498.88 442.65,513.81 474.1,518.41 505.55,519.81" fill="none" stroke="#cc2446" stroke-width="1"/>
<polyline points="348.3,455.91 379.75,474.89 411.2,490.51 442.65,495.39 474.1,498.04 505.55,513.11" fill="none" stroke="#3a6190" stroke-width="1"/>
<circle cx="348.3" cy="433.59" r="2.6" fill="#c3102f"/>
<circle cx="379.75" cy="477.96" r="2.6" fill="#c3102f"/>
<circle cx="411.2" cy="498.88" r="2.6" fill="#c3102f"/>
<circle cx="442.65" cy="513.81" r="2.6" fill="#c3102f"/>
<circle cx="474.1" cy="518.41" r="2.6" fill="#c3102f"/>
<circle cx="505.55" cy="519.81" r="2.6" fill="#c3102f"/>
<rect x="345.7" y="453.31" width="5.2" height="5.2" fill="#1c4472"/>
<rect x="377.15" y="472.29" width="5.2" height="5.2" fill="#1c4472"/>
<rect x="408.6" y="487.91" width="5.2" height="5.2" fill="#1c4472"/>
<rect x="440.05" y="492.79" width="5.2" height="5.2" fill="#1c4472"/>
<rect x="471.5" y="495.44" width="5.2" height="5.2" fill="#1c4472"/>
<rect x="502.95" y="510.51" width="5.2" height="5.2" fill="#1c4472"/>
<line x1="371" y1="413.2" x2="378.5" y2="413.2" stroke="#1c4472" stroke-width="1" />
<circle cx="374.8" cy="413.2" r="1.3" fill="#1c4472"/>
<text x="382.4" y="415.5" font-size="6.5" text-anchor="start" fill="#231f20" textLength="32.5" lengthAdjust="spacingAndGlyphs" >Anti-IGSF9</text>
<line x1="421.8" y1="413.2" x2="429.2" y2="413.2" stroke="#c3102f" stroke-width="1" />
<circle cx="425.5" cy="413.2" r="1.3" fill="#c3102f"/>
<text x="433" y="415.5" font-size="6.5" text-anchor="start" fill="#231f20" textLength="46.6" lengthAdjust="spacingAndGlyphs" >Anti-IGSF9-DXd</text>
<line x1="52.1" y1="404.2" x2="52.1" y2="521.8" stroke="#111" stroke-width="1.1" />
<line x1="51.3" y1="521.2" x2="289.3" y2="521.2" stroke="#111" stroke-width="1.1" />
<line x1="48.6" y1="510" x2="51.8" y2="510" stroke="#111" stroke-width="0.9" />
<text x="45.8" y="512.4" font-size="6.7" text-anchor="end" fill="#231f20" >0</text>
<line x1="48.6" y1="490.25" x2="51.8" y2="490.25" stroke="#111" stroke-width="0.9" />
<text x="45.8" y="492.65" font-size="6.7" text-anchor="end" fill="#231f20" >20</text>
<line x1="48.6" y1="470.5" x2="51.8" y2="470.5" stroke="#111" stroke-width="0.9" />
<text x="45.8" y="472.9" font-size="6.7" text-anchor="end" fill="#231f20" >40</text>
<line x1="48.6" y1="450.75" x2="51.8" y2="450.75" stroke="#111" stroke-width="0.9" />
<text x="45.8" y="453.15" font-size="6.7" text-anchor="end" fill="#231f20" >60</text>
<line x1="48.6" y1="431" x2="51.8" y2="431" stroke="#111" stroke-width="0.9" />
<text x="45.8" y="433.4" font-size="6.7" text-anchor="end" fill="#231f20" >80</text>
<line x1="48.6" y1="411.25" x2="51.8" y2="411.25" stroke="#111" stroke-width="0.9" />
<text x="45.8" y="413.65" font-size="6.7" text-anchor="end" fill="#231f20" >100</text>
<line x1="50.2" y1="519.88" x2="51.8" y2="519.88" stroke="#111" stroke-width="0.6" />
<line x1="50.2" y1="514.94" x2="51.8" y2="514.94" stroke="#111" stroke-width="0.6" />
<line x1="50.2" y1="510" x2="51.8" y2="510" stroke="#111" stroke-width="0.6" />
<line x1="50.2" y1="505.06" x2="51.8" y2="505.06" stroke="#111" stroke-width="0.6" />
<line x1="50.2" y1="500.12" x2="51.8" y2="500.12" stroke="#111" stroke-width="0.6" />
<line x1="50.2" y1="495.19" x2="51.8" y2="495.19" stroke="#111" stroke-width="0.6" />
<line x1="50.2" y1="490.25" x2="51.8" y2="490.25" stroke="#111" stroke-width="0.6" />
<line x1="50.2" y1="485.31" x2="51.8" y2="485.31" stroke="#111" stroke-width="0.6" />
<line x1="50.2" y1="480.38" x2="51.8" y2="480.38" stroke="#111" stroke-width="0.6" />
<line x1="50.2" y1="475.44" x2="51.8" y2="475.44" stroke="#111" stroke-width="0.6" />
<line x1="50.2" y1="470.5" x2="51.8" y2="470.5" stroke="#111" stroke-width="0.6" />
<line x1="50.2" y1="465.56" x2="51.8" y2="465.56" stroke="#111" stroke-width="0.6" />
<line x1="50.2" y1="460.62" x2="51.8" y2="460.62" stroke="#111" stroke-width="0.6" />
<line x1="50.2" y1="455.69" x2="51.8" y2="455.69" stroke="#111" stroke-width="0.6" />
<line x1="50.2" y1="450.75" x2="51.8" y2="450.75" stroke="#111" stroke-width="0.6" />
<line x1="50.2" y1="445.81" x2="51.8" y2="445.81" stroke="#111" stroke-width="0.6" />
<line x1="50.2" y1="440.88" x2="51.8" y2="440.88" stroke="#111" stroke-width="0.6" />
<line x1="50.2" y1="435.94" x2="51.8" y2="435.94" stroke="#111" stroke-width="0.6" />
<line x1="50.2" y1="431" x2="51.8" y2="431" stroke="#111" stroke-width="0.6" />
<line x1="50.2" y1="426.06" x2="51.8" y2="426.06" stroke="#111" stroke-width="0.6" />
<line x1="50.2" y1="421.12" x2="51.8" y2="421.12" stroke="#111" stroke-width="0.6" />
<line x1="50.2" y1="416.19" x2="51.8" y2="416.19" stroke="#111" stroke-width="0.6" />
<line x1="50.2" y1="411.25" x2="51.8" y2="411.25" stroke="#111" stroke-width="0.6" />
<line x1="50.2" y1="406.31" x2="51.8" y2="406.31" stroke="#111" stroke-width="0.6" />
<line x1="57.3" y1="521.2" x2="57.3" y2="522.9" stroke="#111" stroke-width="0.6" />
<line x1="63.01" y1="521.2" x2="63.01" y2="522.9" stroke="#111" stroke-width="0.6" />
<line x1="68.72" y1="521.2" x2="68.72" y2="522.9" stroke="#111" stroke-width="0.6" />
<line x1="74.42" y1="521.2" x2="74.42" y2="522.9" stroke="#111" stroke-width="0.6" />
<line x1="80.12" y1="521.2" x2="80.12" y2="524.2" stroke="#111" stroke-width="0.9" />
<line x1="85.83" y1="521.2" x2="85.83" y2="522.9" stroke="#111" stroke-width="0.6" />
<line x1="91.53" y1="521.2" x2="91.53" y2="522.9" stroke="#111" stroke-width="0.6" />
<line x1="97.24" y1="521.2" x2="97.24" y2="522.9" stroke="#111" stroke-width="0.6" />
<line x1="102.94" y1="521.2" x2="102.94" y2="522.9" stroke="#111" stroke-width="0.6" />
<line x1="108.65" y1="521.2" x2="108.65" y2="524.2" stroke="#111" stroke-width="0.9" />
<line x1="114.36" y1="521.2" x2="114.36" y2="522.9" stroke="#111" stroke-width="0.6" />
<line x1="120.06" y1="521.2" x2="120.06" y2="522.9" stroke="#111" stroke-width="0.6" />
<line x1="125.77" y1="521.2" x2="125.77" y2="522.9" stroke="#111" stroke-width="0.6" />
<line x1="131.47" y1="521.2" x2="131.47" y2="522.9" stroke="#111" stroke-width="0.6" />
<line x1="137.18" y1="521.2" x2="137.18" y2="524.2" stroke="#111" stroke-width="0.9" />
<line x1="142.88" y1="521.2" x2="142.88" y2="522.9" stroke="#111" stroke-width="0.6" />
<line x1="148.59" y1="521.2" x2="148.59" y2="522.9" stroke="#111" stroke-width="0.6" />
<line x1="154.29" y1="521.2" x2="154.29" y2="522.9" stroke="#111" stroke-width="0.6" />
<line x1="160" y1="521.2" x2="160" y2="522.9" stroke="#111" stroke-width="0.6" />
<line x1="165.7" y1="521.2" x2="165.7" y2="524.2" stroke="#111" stroke-width="0.9" />
<line x1="171.41" y1="521.2" x2="171.41" y2="522.9" stroke="#111" stroke-width="0.6" />
<line x1="177.11" y1="521.2" x2="177.11" y2="522.9" stroke="#111" stroke-width="0.6" />
<line x1="182.81" y1="521.2" x2="182.81" y2="522.9" stroke="#111" stroke-width="0.6" />
<line x1="188.52" y1="521.2" x2="188.52" y2="522.9" stroke="#111" stroke-width="0.6" />
<line x1="194.22" y1="521.2" x2="194.22" y2="524.2" stroke="#111" stroke-width="0.9" />
<line x1="199.93" y1="521.2" x2="199.93" y2="522.9" stroke="#111" stroke-width="0.6" />
<line x1="205.63" y1="521.2" x2="205.63" y2="522.9" stroke="#111" stroke-width="0.6" />
<line x1="211.34" y1="521.2" x2="211.34" y2="522.9" stroke="#111" stroke-width="0.6" />
<line x1="217.04" y1="521.2" x2="217.04" y2="522.9" stroke="#111" stroke-width="0.6" />
<line x1="222.75" y1="521.2" x2="222.75" y2="524.2" stroke="#111" stroke-width="0.9" />
<line x1="228.45" y1="521.2" x2="228.45" y2="522.9" stroke="#111" stroke-width="0.6" />
<line x1="234.16" y1="521.2" x2="234.16" y2="522.9" stroke="#111" stroke-width="0.6" />
<line x1="239.87" y1="521.2" x2="239.87" y2="522.9" stroke="#111" stroke-width="0.6" />
<line x1="245.57" y1="521.2" x2="245.57" y2="522.9" stroke="#111" stroke-width="0.6" />
<line x1="251.28" y1="521.2" x2="251.28" y2="524.2" stroke="#111" stroke-width="0.9" />
<line x1="256.98" y1="521.2" x2="256.98" y2="522.9" stroke="#111" stroke-width="0.6" />
<line x1="262.69" y1="521.2" x2="262.69" y2="522.9" stroke="#111" stroke-width="0.6" />
<line x1="268.39" y1="521.2" x2="268.39" y2="522.9" stroke="#111" stroke-width="0.6" />
<line x1="274.1" y1="521.2" x2="274.1" y2="522.9" stroke="#111" stroke-width="0.6" />
<text x="80.1" y="534.4" font-size="6.7" text-anchor="middle" fill="#231f20" >2.5</text>
<text x="109.1" y="534.4" font-size="6.7" text-anchor="middle" fill="#231f20" >5.0</text>
<text x="137.2" y="534.4" font-size="6.7" text-anchor="middle" fill="#231f20" >7.5</text>
<text x="165.8" y="534.4" font-size="6.7" text-anchor="middle" fill="#231f20" >10.0</text>
<text x="193.8" y="534.4" font-size="6.7" text-anchor="middle" fill="#231f20" >12.5</text>
<text x="223.1" y="534.4" font-size="6.7" text-anchor="middle" fill="#231f20" >15.0</text>
<text x="251.2" y="534.4" font-size="6.7" text-anchor="middle" fill="#231f20" >17.5</text>
<text x="271.5" y="534.4" font-size="6.7" text-anchor="middle" fill="#231f20" >20.0</text>
<text x="171" y="545.8" font-size="8.4" text-anchor="middle" fill="#231f20" font-weight="bold" textLength="32.3" lengthAdjust="spacingAndGlyphs" >Time (mins)</text>
<text x="29.6" y="463" font-size="8.5" text-anchor="middle" fill="#231f20" font-weight="bold" textLength="75" lengthAdjust="spacingAndGlyphs" transform="rotate(-90 29.6 463)" >Absorbance 280 nm (mAu)</text>
<text x="120.2" y="405.2" font-size="6.7" text-anchor="middle" fill="#231f20" >DAR 0</text>
<text x="151.7" y="405.2" font-size="6.7" text-anchor="middle" fill="#231f20" >2</text>
<text x="170.7" y="405.2" font-size="6.7" text-anchor="middle" fill="#231f20" >4</text>
<text x="186.8" y="405.2" font-size="6.7" text-anchor="middle" fill="#231f20" >6</text>
<text x="207" y="405.2" font-size="6.7" text-anchor="middle" fill="#231f20" >8-10</text>
<text x="240.3" y="405.2" font-size="6.7" text-anchor="middle" fill="#231f20" >12</text>
<line x1="55.7" y1="417.8" x2="62.3" y2="417.8" stroke="#6dba80" stroke-width="1" />
<text x="65.1" y="420" font-size="6.5" text-anchor="start" fill="#231f20" textLength="32" lengthAdjust="spacingAndGlyphs" >Anti-IGSF9</text>
<line x1="55.7" y1="430.8" x2="62.3" y2="430.8" stroke="#2a4d75" stroke-width="1" />
<text x="65.1" y="433" font-size="6.5" text-anchor="start" fill="#231f20" textLength="60" lengthAdjust="spacingAndGlyphs" >Intermediate product</text>
<line x1="55.7" y1="443.5" x2="62.3" y2="443.5" stroke="#c4365f" stroke-width="1" />
<text x="65.1" y="445.7" font-size="6.5" text-anchor="start" fill="#231f20" textLength="46" lengthAdjust="spacingAndGlyphs" >Anti-IGSF9-DXd</text>
<path d="M52,510.8 C54.67,510.77 65,510.7 68,510.6 C71,510.5 69.33,510.23 70,510.2 C70.67,510.17 70.97,510.5 72,510.4 C73.03,510.3 73.2,509.78 76.2,509.6 C79.2,509.42 84.37,509.43 90,509.3 C95.63,509.17 104.87,508.93 110,508.8 C115.13,508.67 118.38,508.72 120.8,508.5 C123.22,508.28 123.6,508.42 124.5,507.5 C125.4,506.58 125.72,509.25 126.2,503 C126.68,496.75 127,483.83 127.4,470 C127.8,456.17 128.32,429.58 128.6,420 C128.88,410.42 128.93,412.5 129.1,412.5 C129.27,412.5 129.35,410.42 129.6,420 C129.85,429.58 130.28,456.67 130.6,470 C130.92,483.33 131.1,494.25 131.5,500 C131.9,505.75 132.17,503.87 133,504.5 C133.83,505.13 134.88,504.3 136.5,503.8 C138.12,503.3 140.65,501.63 142.7,501.5 C144.75,501.37 146.75,502.08 148.8,503 C150.85,503.92 152.93,506.08 155,507 C157.07,507.92 157.87,508.13 161.2,508.5 C164.53,508.87 162.63,509.08 175,509.2 C187.37,509.32 224.57,509.43 235.4,509.2 C246.23,508.97 238.47,508.3 240,507.8 C241.53,507.3 242.93,506.33 244.6,506.2 C246.27,506.07 247.43,506.62 250,507 C252.57,507.38 256.5,508.08 260,508.5 C263.5,508.92 268.92,509.25 271,509.5 C273.08,509.75 271.62,509.08 272.5,510 C273.38,510.92 275.05,514.75 276.3,515 C277.55,515.25 278.63,512.78 280,511.5 C281.37,510.22 283.75,508 284.5,507.3" stroke="#6dba80" stroke-width="1" fill="none"/>
<path d="M126,508.2 C127.5,507.87 131,506.9 135,506.2 C139,505.5 145.63,504.65 150,504 C154.37,503.35 157.03,502.67 161.2,502.3 C165.37,501.93 171.17,501.93 175,501.8 C178.83,501.67 180.87,501.8 184.2,501.5 C187.53,501.2 191.08,500.5 195,500 C198.92,499.5 204.37,498.42 207.7,498.5 C211.03,498.58 212.95,499.87 215,500.5 C217.05,501.13 218.13,501.88 220,502.3 C221.87,502.72 222.87,502.83 226.2,503 C229.53,503.17 235.7,503.2 240,503.3 C244.3,503.4 250,503.55 252,503.6" stroke="#e070a8" stroke-width="0.9" fill="none"/>
<path d="M52,510.8 C54.83,510.77 66.03,510.4 69,510.6 C71.97,510.8 69.58,510.27 69.8,512 C70.02,513.73 70.13,521 70.3,521 C70.47,521 70.55,513.77 70.8,512 C71.05,510.23 68.6,510.8 71.8,510.4 C75,510 82.8,509.8 90,509.6 C97.2,509.4 105.7,509.38 115,509.2 C124.3,509.02 136.83,508.87 145.8,508.5 C154.77,508.13 163.1,507.38 168.8,507 C174.5,506.62 177.43,506.6 180,506.2 C182.57,505.8 183.17,505.13 184.2,504.6 C185.23,504.07 185.4,503.85 186.2,503 C187,502.15 188.03,501 189,499.5 C189.97,498 190.93,497.42 192,494 C193.07,490.58 194.37,486.17 195.4,479 C196.43,471.83 197.35,458.83 198.2,451 C199.05,443.17 199.72,436.47 200.5,432 C201.28,427.53 202.12,426.32 202.9,424.2 C203.68,422.08 204.43,419.57 205.2,419.3 C205.97,419.03 206.87,421.15 207.5,422.6 C208.13,424.05 208.42,425.02 209,428 C209.58,430.98 210.33,436.17 211,440.5 C211.67,444.83 212.22,449.08 213,454 C213.78,458.92 214.87,465.33 215.7,470 C216.53,474.67 217.22,478.67 218,482 C218.78,485.33 219.57,487.92 220.4,490 C221.23,492.08 222.03,493.42 223,494.5 C223.97,495.58 224.65,495.58 226.2,496.5 C227.75,497.42 229.75,499.28 232.3,500 C234.85,500.72 236.88,500.3 241.5,500.8 C246.12,501.3 255.08,502.47 260,503 C264.92,503.53 268.95,504.25 271,504 C273.05,503.75 271.93,501.33 272.3,501.5 C272.67,501.67 272.53,502.75 273.2,505 C273.87,507.25 275.17,513.92 276.3,515 C277.43,516.08 278.63,512.78 280,511.5 C281.37,510.22 283.75,508 284.5,507.3" stroke="#c4365f" stroke-width="0.95" fill="none"/>
<path d="M52,510.8 C54.42,510.77 63.85,510.82 66.5,510.6 C69.15,510.38 67.52,510.55 67.9,509.5 C68.28,508.45 68.5,504.3 68.8,504.3 C69.1,504.3 69.45,508.52 69.7,509.5 C69.95,510.48 70.1,510.2 70.3,510.2 C70.5,510.2 70.67,510.48 70.9,509.5 C71.13,508.52 71.42,504.3 71.7,504.3 C71.98,504.3 72.22,508.45 72.6,509.5 C72.98,510.55 73.4,510.62 74,510.6 C74.6,510.58 73.53,509.67 76.2,509.4 C78.87,509.13 84.37,509.13 90,509 C95.63,508.87 104.87,508.72 110,508.6 C115.13,508.48 118.75,508.43 120.8,508.3 C122.85,508.17 121.68,508.85 122.3,507.8 C122.92,506.75 123.73,505.05 124.5,502 C125.27,498.95 126.12,491.8 126.9,489.5 C127.68,487.2 128.48,487.28 129.2,488.2 C129.92,489.12 130.65,492.53 131.2,495 C131.75,497.47 132,500.97 132.5,503 C133,505.03 133.45,506.87 134.2,507.2 C134.95,507.53 136.03,506.03 137,505 C137.97,503.97 138.92,502.08 140,501 C141.08,499.92 142.15,499.3 143.5,498.5 C144.85,497.7 146.85,497.62 148.1,496.2 C149.35,494.78 150.1,492.32 151,490 C151.9,487.68 152.83,482.3 153.5,482.3 C154.17,482.3 154.5,487.3 155,490 C155.5,492.7 155.47,496.58 156.5,498.5 C157.53,500.42 159.4,501.5 161.2,501.5 C163,501.5 165.77,499.13 167.3,498.5 C168.83,497.87 169.42,498.55 170.4,497.7 C171.38,496.85 172.47,493.35 173.2,493.4 C173.93,493.45 174.25,496.52 174.8,498 C175.35,499.48 175.43,502.22 176.5,502.3 C177.57,502.38 179.65,498.75 181.2,498.5 C182.75,498.25 184.47,500.05 185.8,500.8 C187.13,501.55 187.67,502.88 189.2,503 C190.73,503.12 192.7,502.38 195,501.5 C197.3,500.62 201.17,498.2 203,497.7 C204.83,497.2 204.7,498.75 206,498.5 C207.3,498.25 209.55,496.87 210.8,496.2 C212.05,495.53 212.73,495.02 213.5,494.5 C214.27,493.98 214.82,492.68 215.4,493.1 C215.98,493.52 216.48,495.6 217,497 C217.52,498.4 217.67,500.42 218.5,501.5 C219.33,502.58 220.72,502.98 222,503.5 C223.28,504.02 224.48,504.68 226.2,504.6 C227.92,504.52 230.83,503.68 232.3,503 C233.77,502.32 234.28,502.67 235,500.5 C235.72,498.33 236.07,500.08 236.6,490 C237.13,479.92 237.7,453.42 238.2,440 C238.7,426.58 239.13,409.5 239.6,409.5 C240.07,409.5 240.55,425.75 241,440 C241.45,454.25 241.7,484.5 242.3,495 C242.9,505.5 243.32,501.58 244.6,503 C245.88,504.42 247.43,503.23 250,503.5 C252.57,503.77 256.5,504.35 260,504.6 C263.5,504.85 268.95,504.77 271,505 C273.05,505.23 271.42,504.33 272.3,506 C273.18,507.67 275.02,514.17 276.3,515 C277.58,515.83 278.63,512.28 280,511 C281.37,509.72 283.75,507.92 284.5,507.3" stroke="#2a4d75" stroke-width="1" fill="none"/>
<rect x="0" y="0" width="520" height="1" fill="#555"/>
<rect x="0" y="0" width="1" height="556" fill="#666"/>
<rect x="519" y="0" width="1" height="556" fill="#3d3d3d"/>
<rect x="0" y="555" width="520" height="1" fill="#2b2b2b"/>
</svg>
</body></html>
